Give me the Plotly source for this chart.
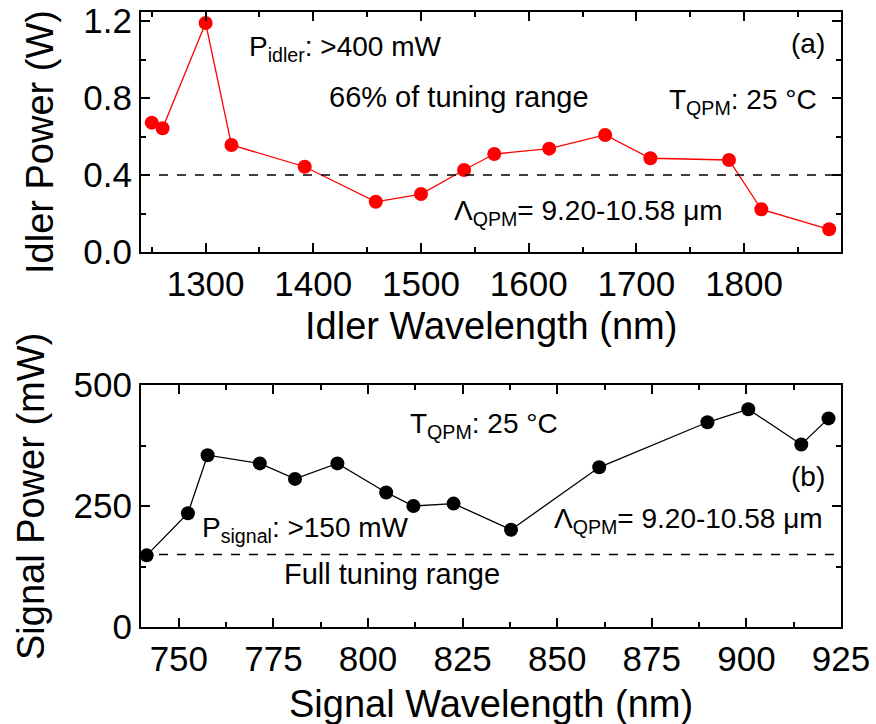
import plotly.graph_objects as go

# ---- data ----
idler_wl = [1250, 1260, 1300, 1324, 1392, 1458, 1500, 1540, 1568, 1619, 1671, 1713, 1786, 1816, 1879]
idler_pw = [0.672, 0.643, 1.19, 0.556, 0.443, 0.261, 0.301, 0.426, 0.509, 0.537, 0.608, 0.487, 0.478, 0.222, 0.118]
idler_threshold = 0.4

signal_wl = [741.5, 752.4, 757.6, 771.4, 780.7, 791.9, 804.8, 812.0, 822.6, 837.8, 861.1, 889.7, 900.5, 914.5, 921.7]
signal_pw = [148, 235, 355, 338, 306, 338, 278, 250, 255, 201, 330, 423, 450, 377, 431]
signal_threshold = 150

top_xticks = [1300, 1400, 1500, 1600, 1700, 1800]
top_yticks = [0.0, 0.4, 0.8, 1.2]
bot_xticks = [750, 775, 800, 825, 850, 875, 900, 925]
bot_yticks = [0, 250, 500]

# ---- geometry (pixels) ----
W, H = 876, 724
L, R, T, B = 141, 841, 12, 627
PW, PH = R - L, B - T


def px(x):
    return (x - L) / PW


def py(y):
    return (B - y) / PH


FONT = "Liberation Sans, Arial, sans-serif"

fig = go.Figure()
fig.add_trace(go.Scatter(x=idler_wl, y=idler_pw, mode="lines+markers",
                         line=dict(color="#ff0000", width=1.3),
                         marker=dict(color="#ff0000", size=14),
                         xaxis="x", yaxis="y", showlegend=False, cliponaxis=False))
fig.add_trace(go.Scatter(x=signal_wl, y=signal_pw, mode="lines+markers",
                         line=dict(color="black", width=1.3),
                         marker=dict(color="black", size=14),
                         xaxis="x2", yaxis="y2", showlegend=False, cliponaxis=False))

fig.add_shape(type="line", xref="x domain", yref="y", x0=0, x1=1,
              y0=idler_threshold, y1=idler_threshold,
              line=dict(color="black", width=1.5, dash="dash"))
fig.add_shape(type="line", xref="x2 domain", yref="y2", x0=0, x1=1,
              y0=signal_threshold, y1=signal_threshold,
              line=dict(color="black", width=1.5, dash="dash"))

axis_common = dict(showline=True, linecolor="black", linewidth=2, mirror="ticks",
                   ticks="inside", ticklen=9, tickwidth=2, tickcolor="black",
                   showgrid=False, zeroline=False, automargin=False,
                   tickfont=dict(family=FONT, size=35, color="black"))

yt = py(252)
yb = py(385)

fig.update_layout(
    width=W, height=H,
    margin=dict(l=L, r=W - R, t=T, b=H - B, autoexpand=False),
    paper_bgcolor="white", plot_bgcolor="white",
    font=dict(family=FONT, color="black"),
    xaxis=dict(domain=[0, 1], anchor="y", range=[1240, 1890],
               tickvals=top_xticks,
               minor=dict(dtick=50, tick0=0, ticks="inside", ticklen=5, tickwidth=2, tickcolor="black"),
               **axis_common),
    yaxis=dict(domain=[yt, 1], anchor="x", range=[0, 1.247],
               tickvals=top_yticks, tickformat=".1f",
               minor=dict(dtick=0.2, tick0=0, ticks="inside", ticklen=5, tickwidth=2, tickcolor="black"),
               **axis_common),
    xaxis2=dict(domain=[0, 1], anchor="y2", range=[740, 925],
                tickvals=bot_xticks,
                minor=dict(dtick=12.5, tick0=0, ticks="inside", ticklen=5, tickwidth=2, tickcolor="black"),
                **axis_common),
    yaxis2=dict(domain=[0, yb], anchor="x2", range=[0, 500],
                tickvals=bot_yticks,
                minor=dict(dtick=125, tick0=0, ticks="inside", ticklen=5, tickwidth=2, tickcolor="black"),
                **axis_common),
)

anns = []


def add_text(text, x, y, size=28, xanchor="left", angle=0):
    anns.append(dict(text=text, x=px(x), y=py(y), xref="paper", yref="paper",
                     xanchor=xanchor, yanchor="middle", showarrow=False,
                     textangle=angle, font=dict(family=FONT, size=size, color="black")))


# axis titles
add_text("Idler Power (W)", 40, 142, size=38, xanchor="center", angle=-90)
add_text("Signal Power (mW)", 31, 497, size=38, xanchor="center", angle=-90)
add_text("Idler Wavelength (nm)", 491, 326, size=38, xanchor="center")
add_text("Signal Wavelength (nm)", 491, 704, size=38, xanchor="center")

# top panel annotations
add_text("P<sub>idler</sub>: &gt;400 mW", 247, 48)
add_text("66% of tuning range", 327, 97, size=29)
add_text("T<sub>QPM</sub>: 25 °C", 667, 101)
add_text("(a)", 827, 43, xanchor="right")
add_text("Λ<sub>QPM</sub>= 9.20-10.58 μm", 452, 212)

# bottom panel annotations
add_text("T<sub>QPM</sub>: 25 °C", 408, 426)
add_text("(b)", 827, 476, xanchor="right")
add_text("Λ<sub>QPM</sub>= 9.20-10.58 μm", 552, 520)
add_text("P<sub>signal</sub>: &gt;150 mW", 200, 529)
add_text("Full tuning range", 282, 574, size=29)

fig.update_layout(annotations=anns)
fig.write_html("out.html")
